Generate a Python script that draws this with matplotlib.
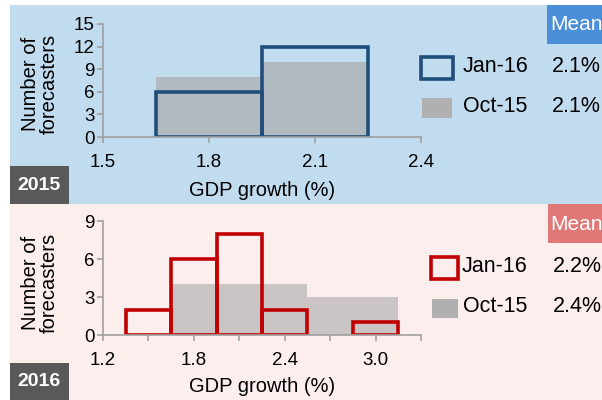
import matplotlib
matplotlib.use("Agg")
import matplotlib.pyplot as plt
from matplotlib.patches import Rectangle

plt.rcParams['font.family'] = ['Liberation Sans', 'DejaVu Sans']

# 2015 panel data
bins_2015 = [1.65, 1.95]
jan16_2015 = [6, 12]
oct15_2015 = [8, 10]
xticks_2015 = [1.5, 1.8, 2.1, 2.4]
yticks_2015 = [0, 3, 6, 9, 12, 15]
means_2015 = ['2.1%', '2.1%']

# 2016 panel data
bins_2016 = [1.35, 1.65, 1.95, 2.25, 2.55, 2.85]
jan16_2016 = [2, 6, 8, 2, 0, 1]
oct15_2016 = [0, 4, 4, 4, 3, 3]
xticks_2016 = [1.2, 1.5, 1.8, 2.1, 2.4, 2.7, 3.0, 3.3]
xlabels_2016 = ['1.2', '', '1.8', '', '2.4', '', '3.0', '']
yticks_2016 = [0, 3, 6, 9]
means_2016 = ['2.2%', '2.4%']

bin_width = 0.3
W, H = 602, 400

fig = plt.figure(figsize=(6.02, 4.0), dpi=100)


def px_rect(x0, y0, x1, y1, z=1, **kw):
    # rectangle in pixel coords (y from top)
    r = Rectangle((x0 / W, 1 - y1 / H), (x1 - x0) / W, (y1 - y0) / H,
                  transform=fig.transFigure, zorder=z, **kw)
    fig.patches.append(r)


def px_text(x, y, s, **kw):
    fig.text(x / W, 1 - y / H, s, **kw)


# panel backgrounds (behind the axes)
px_rect(10, 5, 602, 204, z=-3, facecolor='#c1dbef', edgecolor='none')
px_rect(10, 204, 602, 400, z=-3, facecolor='#fdeeee', edgecolor='none')
px_rect(10, 166, 69, 204, z=-2, facecolor='#595959', edgecolor='none')
px_rect(10, 363, 69, 400, z=-2, facecolor='#595959', edgecolor='none')
px_rect(547, 5, 602, 44, z=-2, facecolor='#4a8fd8', edgecolor='none')
px_rect(548, 204, 602, 243, z=-2, facecolor='#e07878', edgecolor='none')

px_text(39, 185, '2015', color='white', fontsize=14, fontweight='bold',
        ha='center', va='center')
px_text(39, 382, '2016', color='white', fontsize=14, fontweight='bold',
        ha='center', va='center')
px_text(550, 25, 'Mean', color='white', fontsize=15, ha='left', va='center')
px_text(550, 224, 'Mean', color='white', fontsize=15, ha='left', va='center')


def draw_panel(rect, bins, jan, octv, xticks, xlabels, yticks, ymax,
               line_color, gray, xlim):
    ax = fig.add_axes(rect)
    ax.set_facecolor('none')
    ax.bar(bins, octv, width=bin_width, align='edge', color=gray,
           edgecolor='none')
    jb = [b for b, v in zip(bins, jan) if v > 0]
    jv = [v for v in jan if v > 0]
    ax.bar(jb, jv, width=bin_width, align='edge', fill=False,
           edgecolor=line_color, linewidth=2.6)
    ax.set_xlim(*xlim)
    ax.set_ylim(0, ymax)
    ax.set_xticks(xticks)
    ax.set_xticklabels(xlabels)
    ax.set_yticks(yticks)
    for s in ['top', 'right']:
        ax.spines[s].set_visible(False)
    for s in ['left', 'bottom']:
        ax.spines[s].set_color('#a0a0a0')
        ax.spines[s].set_linewidth(1.2)
    ax.tick_params(colors='#a0a0a0', labelcolor='black', labelsize=13.5,
                   length=4, width=1.2, direction='out')
    ax.tick_params(axis='x', pad=8)
    ax.tick_params(axis='y', pad=2)
    return ax


ax1 = draw_panel([103 / W, 1 - 137 / H, 318 / W, 113 / H], bins_2015,
                 jan16_2015, oct15_2015, xticks_2015,
                 [f'{t:.1f}' for t in xticks_2015], yticks_2015, 15,
                 '#1f4e7a', '#b1b9c1', (1.5, 2.4))
ax2 = draw_panel([103 / W, 1 - 335 / H, 318 / W, 114 / H], bins_2016,
                 jan16_2016, oct15_2016, xticks_2016, xlabels_2016,
                 yticks_2016, 9, '#c00000', '#cac4c4', (1.2, 3.3))

# axis titles
for yc in (84, 283):
    px_text(40, yc, 'Number of\nforecasters', fontsize=14.5, rotation=90,
            ha='center', va='center', linespacing=1.0)
px_text(262, 190, 'GDP growth (%)', fontsize=14.5, ha='center', va='center')
px_text(262, 386, 'GDP growth (%)', fontsize=14.5, ha='center', va='center')

# legends
px_rect(421, 57, 453, 79, facecolor='none', edgecolor='#1f4e7a',
        linewidth=2.6)
px_rect(422, 98, 452, 118, facecolor='#b0b0b0', edgecolor='none')
px_text(463, 67, 'Jan-16', fontsize=15.5, va='center')
px_text(463, 107, 'Oct-15', fontsize=15.5, va='center')
px_text(552, 67, means_2015[0], fontsize=15.5, va='center')
px_text(552, 107, means_2015[1], fontsize=15.5, va='center')

px_rect(431, 257, 458, 279, facecolor='none', edgecolor='#c00000',
        linewidth=2.6)
px_rect(432, 299, 458, 318, facecolor='#b0b0b0', edgecolor='none')
px_text(462, 267, 'Jan-16', fontsize=15.5, va='center')
px_text(463, 307, 'Oct-15', fontsize=15.5, va='center')
px_text(553, 267, means_2016[0], fontsize=15.5, va='center')
px_text(553, 307, means_2016[1], fontsize=15.5, va='center')

fig.savefig('out.png', dpi=100)
